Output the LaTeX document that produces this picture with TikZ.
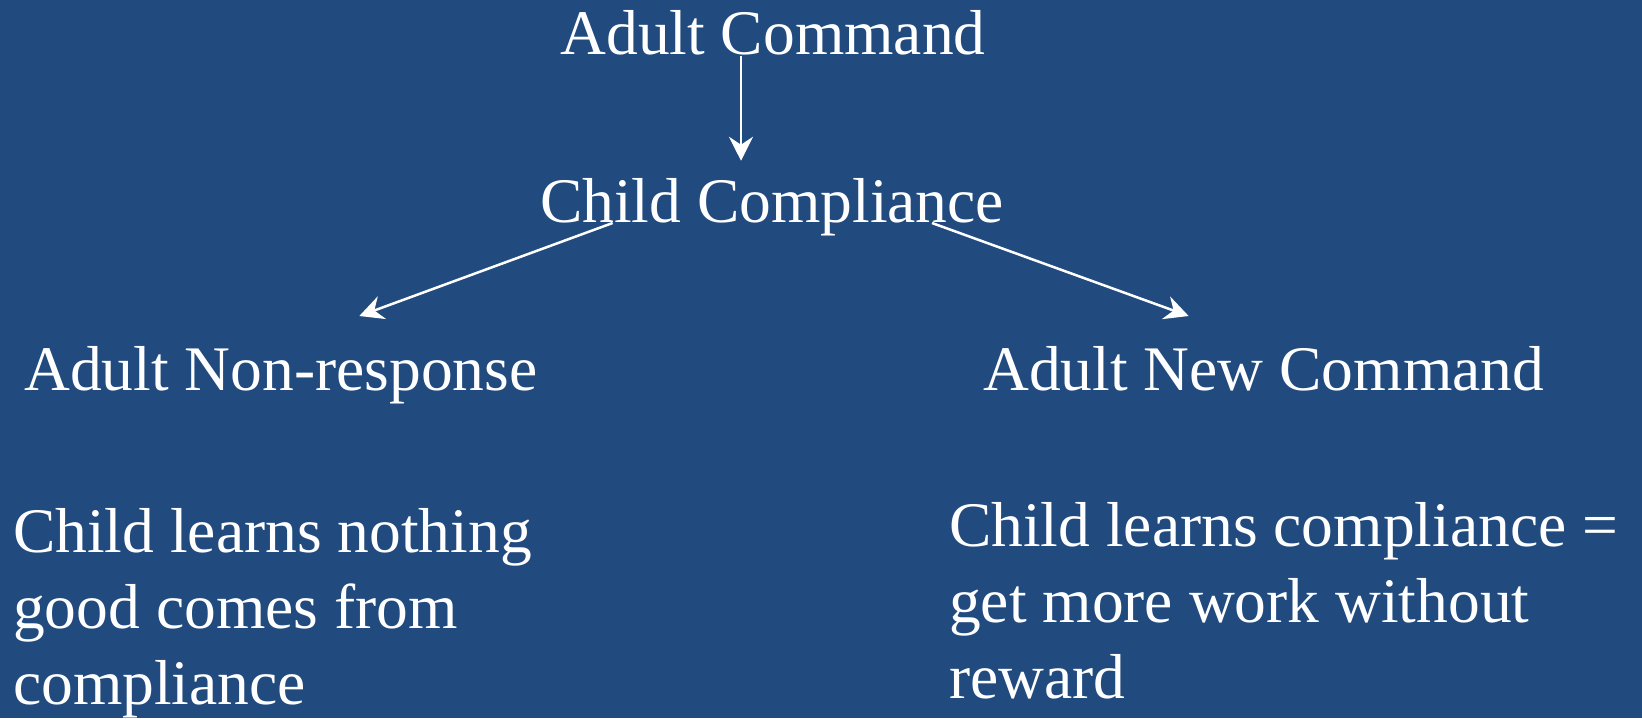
\documentclass[tikz,border=0pt]{standalone}
\usepackage{fontspec}
\setmainfont{Liberation Serif}
\usetikzlibrary{arrows.meta}
\definecolor{slideblue}{RGB}{33,74,126}
\begin{document}
\begin{tikzpicture}[x=1pt,y=-1pt,
  label/.style={text=white,inner sep=0pt,font=\fontsize{63.5}{76}\selectfont},
  arr/.style={draw=white,line width=2.5pt,-{Stealth[length=24pt,width=24pt,inset=8pt]}}]
  % background
  \fill[slideblue] (0,0) rectangle (1642,718);
  \useasboundingbox (0,0) rectangle (1642,718);

  % flow labels
  \node[label,anchor=base] (cmd)  at (773,54.5) {Adult Command};
  \node[label,anchor=base] (comp) at (772,222)  {Child Compliance};
  \node[label,anchor=base west] (non) at (24,390)  {Adult Non-response};
  \node[label,anchor=base west] (new) at (983,390) {Adult New Command};

  % outcome notes
  \node[label,anchor=base west] (l1) at (13,552) {Child learns nothing};
  \node[label,anchor=base west] (l2) at (13,628) {good comes from};
  \node[label,anchor=base west] (l3) at (13,704) {compliance};
  \node[label,anchor=base west] (r1) at (949,546) {Child learns compliance =};
  \node[label,anchor=base west] (r2) at (949,622) {get more work without};
  \node[label,anchor=base west] (r3) at (949,698) {reward};

  % connectors
  \draw[arr] ([xshift=-32pt,yshift=-1pt]cmd.base) -- ([xshift=-31pt,yshift=17pt]comp.north);
  \draw[arr] ([xshift=-159.4pt,yshift=-1pt]comp.base) -- ([xshift=78.5pt,yshift=74pt]non.base);
  \draw[arr] ([xshift=160pt,yshift=-1pt]comp.base) -- ([xshift=-75pt,yshift=74pt]new.base);
\end{tikzpicture}
\end{document}
